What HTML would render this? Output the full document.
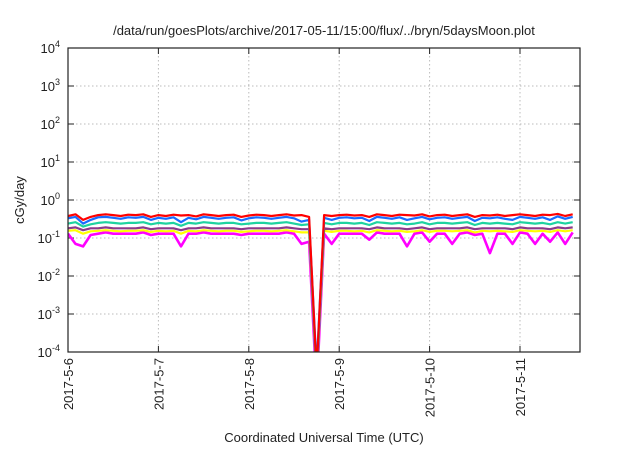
<!DOCTYPE html>
<html><head><meta charset="utf-8"><style>
body{margin:0;background:#fff;font-family:"Liberation Sans",sans-serif}
svg text{font-family:"Liberation Sans",sans-serif;fill:#222}
</style></head><body>
<svg id="chart" width="640" height="448" viewBox="0 0 640 448" xmlns="http://www.w3.org/2000/svg">
<rect width="640" height="448" fill="#fff"/>
<text x="324" y="35" font-size="13" text-anchor="middle">/data/run/goesPlots/archive/2017-05-11/15:00/flux/../bryn/5daysMoon.plot</text>
<text transform="translate(24,200) rotate(-90)" font-size="13" text-anchor="middle">cGy/day</text>
<text x="324" y="442" font-size="13" text-anchor="middle">Coordinated Universal Time (UTC)</text>
<g id="grid"></g><g id="axes"></g>
<defs><clipPath id="clip"><rect x="68" y="48" width="512" height="304"/></clipPath></defs>
<g id="series" clip-path="url(#clip)"></g>
<rect x="68" y="48" width="512" height="304" fill="none" stroke="#222" stroke-width="1.2"/>
</svg>
<script>
const xTickLabels=["2017-5-6","2017-5-7","2017-5-8","2017-5-9","2017-5-10","2017-5-11"];
const yTickExps=[-4,-3,-2,-1,0,1,2,3,4];
const seriesColors=["#ff00ff","#ffff00","#8b3a8b","#1ed3a0","#1a6cff","#ff0000"];
const red=[0.38,0.42,0.30,0.36,0.40,0.42,0.40,0.38,0.41,0.40,0.42,0.36,0.40,0.38,0.41,0.39,0.40,0.37,0.42,0.40,0.38,0.40,0.41,0.36,0.39,0.41,0.40,0.38,0.40,0.42,0.39,0.40,0.36,0.00003,0.40,0.38,0.40,0.41,0.39,0.40,0.36,0.42,0.40,0.38,0.41,0.40,0.39,0.42,0.37,0.40,0.41,0.38,0.40,0.42,0.36,0.40,0.39,0.41,0.38,0.40,0.42,0.40,0.38,0.41,0.40,0.43,0.38,0.42];
const blue=[0.33,0.36,0.24,0.30,0.35,0.36,0.34,0.32,0.35,0.34,0.36,0.30,0.34,0.32,0.35,0.26,0.34,0.31,0.36,0.34,0.32,0.34,0.35,0.29,0.33,0.35,0.34,0.32,0.34,0.36,0.33,0.27,0.30,0.00004,0.34,0.30,0.34,0.35,0.33,0.34,0.28,0.36,0.34,0.32,0.35,0.30,0.33,0.36,0.31,0.34,0.35,0.32,0.34,0.36,0.28,0.34,0.33,0.35,0.32,0.30,0.36,0.34,0.32,0.35,0.30,0.37,0.32,0.36];
const teal=[0.24,0.26,0.20,0.23,0.25,0.26,0.25,0.24,0.25,0.25,0.26,0.23,0.25,0.24,0.25,0.21,0.25,0.24,0.26,0.25,0.24,0.25,0.25,0.23,0.24,0.25,0.25,0.24,0.25,0.26,0.24,0.22,0.23,0.00002,0.25,0.23,0.25,0.25,0.24,0.25,0.22,0.26,0.25,0.24,0.25,0.23,0.24,0.26,0.23,0.25,0.25,0.24,0.25,0.26,0.22,0.25,0.24,0.25,0.24,0.23,0.26,0.25,0.24,0.25,0.23,0.26,0.24,0.26];
const purple=[0.18,0.19,0.16,0.18,0.18,0.19,0.18,0.18,0.18,0.18,0.19,0.17,0.18,0.18,0.18,0.16,0.18,0.18,0.19,0.18,0.18,0.18,0.18,0.17,0.18,0.18,0.18,0.18,0.18,0.19,0.18,0.17,0.17,0.00002,0.18,0.17,0.18,0.18,0.18,0.18,0.17,0.19,0.18,0.18,0.18,0.17,0.18,0.19,0.17,0.18,0.18,0.18,0.18,0.19,0.17,0.18,0.18,0.18,0.18,0.17,0.19,0.18,0.18,0.18,0.17,0.19,0.18,0.19];
const yellow=[0.155,0.16,0.13,0.15,0.155,0.16,0.155,0.15,0.155,0.155,0.16,0.145,0.155,0.15,0.155,0.13,0.155,0.15,0.16,0.155,0.15,0.155,0.155,0.145,0.15,0.155,0.155,0.15,0.155,0.16,0.15,0.14,0.14,0.00002,0.155,0.145,0.155,0.155,0.15,0.155,0.14,0.16,0.155,0.15,0.155,0.145,0.15,0.16,0.145,0.155,0.155,0.15,0.155,0.16,0.14,0.155,0.15,0.155,0.15,0.145,0.16,0.155,0.15,0.155,0.145,0.16,0.15,0.16];
const magenta=[0.13,0.07,0.06,0.12,0.13,0.14,0.13,0.13,0.13,0.13,0.14,0.12,0.13,0.13,0.13,0.06,0.13,0.13,0.14,0.13,0.13,0.13,0.13,0.12,0.13,0.13,0.13,0.13,0.13,0.14,0.13,0.07,0.08,0.00001,0.13,0.07,0.13,0.13,0.13,0.13,0.09,0.14,0.13,0.13,0.13,0.06,0.13,0.14,0.08,0.13,0.13,0.07,0.13,0.14,0.12,0.13,0.04,0.13,0.13,0.07,0.14,0.13,0.07,0.13,0.08,0.14,0.07,0.14];
const seriesData=[magenta,yellow,purple,teal,blue,red];
const seriesNames=["series-magenta","series-yellow","series-purple","series-teal","series-blue","series-red"];
const NS="http://www.w3.org/2000/svg";
const X0=68,DAYW=90.4,Y0=352,DEC=38;
function xScale(day){return X0+day*DAYW;}
function yScale(v){return Y0-(Math.log10(v)+4)*DEC;}
const grid=document.getElementById('grid'),axes=document.getElementById('axes'),ser=document.getElementById('series');
function mk(tag,attrs,parent){const e=document.createElementNS(NS,tag);for(const k in attrs)e.setAttribute(k,attrs[k]);parent.appendChild(e);return e;}
yTickExps.forEach(ex=>{const y=yScale(Math.pow(10,ex));
 if(ex>-4&&ex<4){const l=mk('line',{x1:68,x2:580,y1:y,y2:y,stroke:'#bbb','stroke-dasharray':'1.5,2.5'},grid);
 
 }
 mk('line',{x1:68,x2:74,y1:y,y2:y,stroke:'#222'},axes);mk('line',{x1:574,x2:580,y1:y,y2:y,stroke:'#222'},axes);
 const t=mk('text',{x:60,y:y+5,'font-size':13,'text-anchor':'end'},axes);
 
 
 t.textContent='10';const s=mk('tspan',{dy:-6,'font-size':9},t);s.textContent=String(ex);});
xTickLabels.forEach((lab,i)=>{const x=xScale(i);
 if(i>0){const l=mk('line',{x1:x,x2:x,y1:48,y2:352,stroke:'#bbb','stroke-dasharray':'1.5,2.5'},grid);
 
 }
 mk('line',{x1:x,x2:x,y1:346,y2:352,stroke:'#222'},axes);mk('line',{x1:x,x2:x,y1:48,y2:54,stroke:'#222'},axes);
 const t=mk('text',{transform:`translate(${x+5},358) rotate(-90)`,'font-size':13,'text-anchor':'end'},axes);
 
 
 t.textContent=lab;});
seriesData.forEach((arr,si)=>{const pts=arr.map((v,i)=>xScale(i*2/24).toFixed(1)+','+yScale(v).toFixed(1)).join(' ');
 const p=mk('polyline',{points:pts,fill:'none',stroke:seriesColors[si],'stroke-width':si===0?2.6:2.2,'stroke-linejoin':'round'},ser);
 
 });
</script>
</body></html>
